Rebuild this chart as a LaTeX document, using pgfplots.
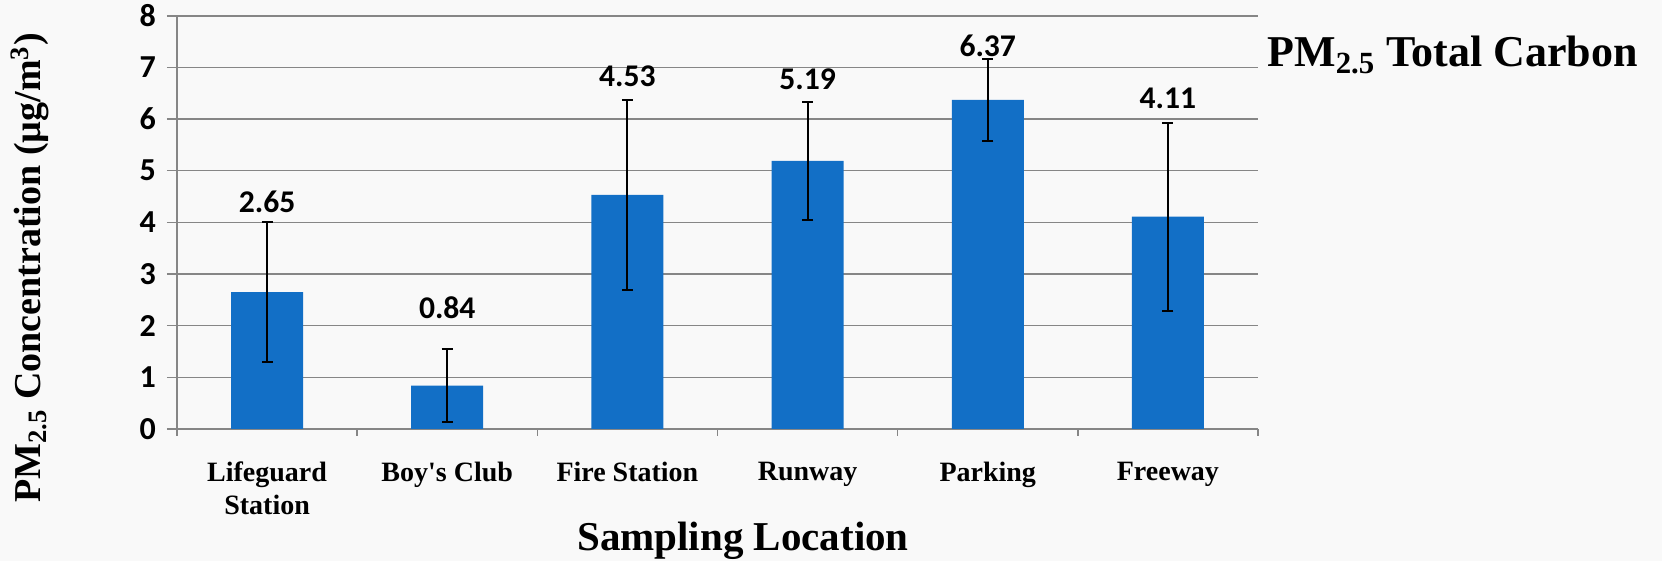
\documentclass[border=0pt]{standalone}
\usepackage{pgfplots}
\pgfplotsset{compat=1.18}
\usepackage{fontspec}
\setmainfont{Liberation Serif}
\newfontfamily\calibri{Carlito}

\definecolor{barblue}{RGB}{18,111,198}
\definecolor{gridgray}{RGB}{134,134,134}
\definecolor{paper}{RGB}{249,249,249}

% x: category index, val: mean, err: half-width of error bar, ly: height of value label
\pgfplotstableread{
x val err ly
0 2.65 1.35 4.39
1 0.84 0.71 2.35
2 4.53 1.83 6.82
3 5.19 1.14 6.77
4 6.37 0.79 7.42
5 4.11 1.82 6.40
}\carbon

\begin{document}
\begin{tikzpicture}
\fill[paper] (-88.5pt,-66pt) rectangle (742.5pt,214.5pt);
\useasboundingbox (-88.5pt,-66pt) rectangle (742.5pt,214.5pt);
\begin{axis}[
  at={(0pt,0pt)}, anchor=south west,
  scale only axis,
  width=540.5pt, height=206.65pt,
  xmin=-0.5, xmax=5.5, ymin=0, ymax=8,
  axis x line*=bottom, axis y line*=left,
  axis line style={gridgray, line width=0.8pt},
  tick align=outside,
  xtick={0,...,5},
  xticklabels={Lifeguard\\Station, Boy\textquotesingle s Club, Fire Station, Runway, Parking, Freeway},
  minor xtick={-0.5,0.5,...,5.5},
  major x tick style={draw=none},
  minor x tick style={gridgray, line width=0.8pt},
  minor tick length=3.5pt,
  ytick={0,...,8},
  major y tick style={gridgray, line width=0.8pt},
  major tick length=5pt,
  ymajorgrids,
  grid style={gridgray, line width=0.8pt},
  xticklabel style={align=center, font=\fontsize{14}{16.5}\selectfont\bfseries, yshift=-8pt},
  yticklabel style={font=\fontsize{16}{18}\selectfont\calibri\bfseries, anchor=east, xshift=-2pt},
  /pgf/number format/assume math mode=true,
  xlabel={Sampling Location},
  xlabel style={at={(axis description cs:0.5236,-0.271)}, anchor=center, font=\fontsize{20.5}{22}\selectfont\bfseries},
  ylabel={PM\textsubscript{2.5} Concentration (µg/m\textsuperscript{3})},
  ylabel style={at={(axis description cs:-0.136,0.39)}, anchor=center, rotate=0, font=\fontsize{19}{21}\selectfont\bfseries},
  clip=false,
]
\addplot[ybar, bar width=36pt, fill=barblue, draw=none,
  error bars/.cd, y dir=both, y explicit,
  error mark=-,
  error bar style={draw=black, line width=1pt},
  error mark options={rotate=90, draw=black, line width=1pt, mark size=2.75pt}]
  table[x=x, y=val, y error=err] {\carbon};
\addplot[draw=none, mark=none,
  nodes near coords={\pgfmathprintnumber[fixed,precision=2,fixed zerofill]{\pgfplotspointmeta}},
  nodes near coords align=center,
  every node near coord/.append style={font=\fontsize{15.8}{18}\selectfont\calibri\bfseries, anchor=center},
  point meta=explicit]
  table[x=x, y=ly, meta=val] {\carbon};
\node[anchor=base west, font=\fontsize{22}{24}\selectfont\bfseries, inner sep=0pt]
  at (axis description cs:1.0083,0.876) {PM\textsubscript{2.5} Total Carbon};
\end{axis}
\end{tikzpicture}
\end{document}
